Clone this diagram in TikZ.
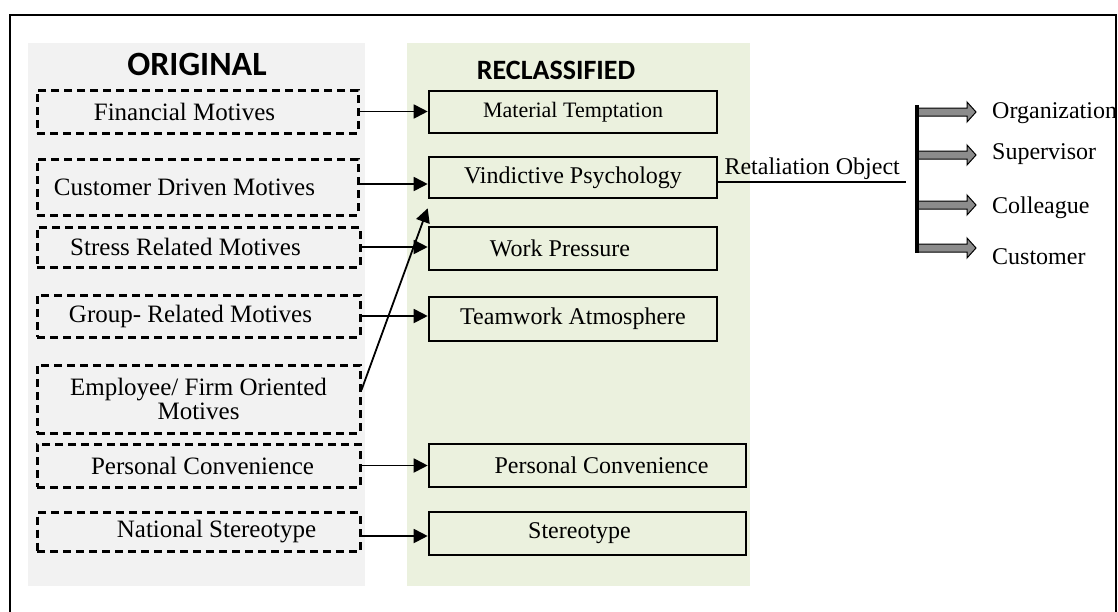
\documentclass[tikz,border=0pt]{standalone}
\usepackage{fontspec}
\setmainfont{Liberation Serif}
\newfontfamily\headfont{Carlito}
\usepackage{tikz}
\usetikzlibrary{arrows.meta,calc}
\definecolor{ink}{HTML}{000000}
\definecolor{oldpanel}{HTML}{F2F2F2}
\definecolor{newpanel}{HTML}{EBF1DE}
\definecolor{blockgray}{HTML}{8C8C8C}
\tikzset{
  headtext/.style={font=\headfont\bfseries\fontsize{#1}{#1}\selectfont},
  oldbox/.style={draw=ink,line width=3pt,dash pattern=on 8pt off 5pt,
    minimum width=323pt,align=center,inner sep=2pt,font=\fontsize{25}{24}\selectfont},
  newbox/.style={draw=ink,line width=2.6pt,minimum width=288pt,minimum height=42pt,
    inner sep=2pt,font=\fontsize{24}{28}\selectfont},
  linkarrow/.style={-{Triangle[length=14pt,width=14pt]},line width=1.8pt,draw=ink},
  objtext/.style={anchor=west,inner xsep=16pt,inner ysep=0pt,font=\fontsize{24}{28}\selectfont},
  blockarrow/.style={draw=ink,fill=blockgray,line width=1pt,
    to path={let \p1=(\tikztostart),\p2=(\tikztotarget) in
      (\x1,\y1+4pt) -- (\x2-9pt,\y1+4pt) -- (\x2-9pt,\y1+10pt) -- (\x2,\y1)
      -- (\x2-9pt,\y1-10pt) -- (\x2-9pt,\y1-4pt) -- (\x1,\y1-4pt) -- cycle}}
}

\begin{document}
\begin{tikzpicture}[x=1pt,y=-1pt]
\useasboundingbox (0,0) rectangle (1118,611);
\clip (0,0) rectangle (1118,611);
% outer frame and the two column panels
\draw[line width=2.8pt] (10,15) rectangle (1116,660);
\fill[oldpanel] (28,43) rectangle (365,586);
\fill[newpanel] (407,43) rectangle (750,586);

\node[headtext=34] (origtitle) at (197,64) {ORIGINAL};
\node[headtext=28] (newtitle) at (556,70) {RECLASSIFIED};

% original motives
\node[oldbox,minimum width=321pt,minimum height=43pt] (fin) at (197.5,111.5) {Financial Motives\hspace*{26pt}};
\node[oldbox,minimum width=321pt,minimum height=56pt] (cust) at (197.5,187) {Customer Driven Motives\hspace*{26pt}};
\node[oldbox,minimum height=40pt] (stress) at (198.5,247) {Stress Related Motives\hspace*{26pt}};
\node[oldbox,minimum height=42pt] (group) at (198.5,316) {Group- Related Motives\hspace*{16pt}};
\node[oldbox,minimum height=68pt] (empl) at (198.5,399) {Employee/ Firm Oriented\\Motives};
\node[oldbox,minimum height=43pt] (pers) at (198.5,465.5) {\hspace*{8pt}Personal Convenience};
\node[oldbox,minimum height=39pt] (nat) at (198.5,532) {\hspace*{36pt}National Stereotype};

% reclassified motives
\node[newbox,font=\fontsize{22}{26}\selectfont] (mat) at (573,112) {Material Temptation};
\node[newbox,minimum height=41pt] (vind) at (573,177.5) {Vindictive Psychology};
\node[newbox,minimum height=43pt] (work) at (573,248.5) {Work Pressure\hspace*{26pt}};
\node[newbox,minimum height=44pt] (team) at (573,319) {Teamwork Atmosphere};
\node[newbox,minimum width=317pt,minimum height=43pt] (pconv) at (587.5,465.5) {\hspace*{28pt}Personal Convenience};
\node[newbox,minimum width=317pt,minimum height=43pt] (stereo) at (587.5,533.5) {Stereotype\hspace*{16pt}};

\draw[linkarrow] (fin.east) -- (fin.east -| mat.west);
\draw[linkarrow] ([yshift=3pt]cust.east) -- ([yshift=3pt]cust.east -| vind.west);
\draw[linkarrow] (stress.east) -- (stress.east -| work.west);
\draw[linkarrow] (group.east) -- (group.east -| team.west);
\draw[linkarrow] ([yshift=9pt]empl.east) -- ([yshift=-9pt]vind.south west);
\draw[linkarrow] (pers.east) -- (pers.east -| pconv.west);
\draw[linkarrow] ([yshift=-4pt]nat.east) -- ([yshift=-4pt]nat.east -| stereo.west);

% objects of retaliation
\coordinate (retend) at (906,182);
\draw[line width=1.8pt] (vind.east |- retend) -- node[above=1pt,inner sep=0pt,font=\fontsize{24}{28}\selectfont] (retlabel) {Retaliation Object} (retend);

\coordinate (bartop) at (917,105);
\coordinate (barbot) at (917,253);
\coordinate (b1) at (917,112);
\coordinate (b2) at (917,155);
\coordinate (b3) at (917,205);
\coordinate (b4) at (917,248);
\node[objtext] (org) at (976,113) {Organization};
\node[objtext] (sup) at (976,154) {Supervisor};
\node[objtext] (coll) at (976,208) {Colleague};
\node[objtext] (custo) at (976,257) {Customer};
\draw[blockarrow] (b1) to (org.west);
\draw[blockarrow] (b2) to (sup.west);
\draw[blockarrow] (b3) to (coll.west);
\draw[blockarrow] (b4) to (custo.west);
\draw[line width=3.2pt] (bartop) -- (barbot);
\end{tikzpicture}
\end{document}
